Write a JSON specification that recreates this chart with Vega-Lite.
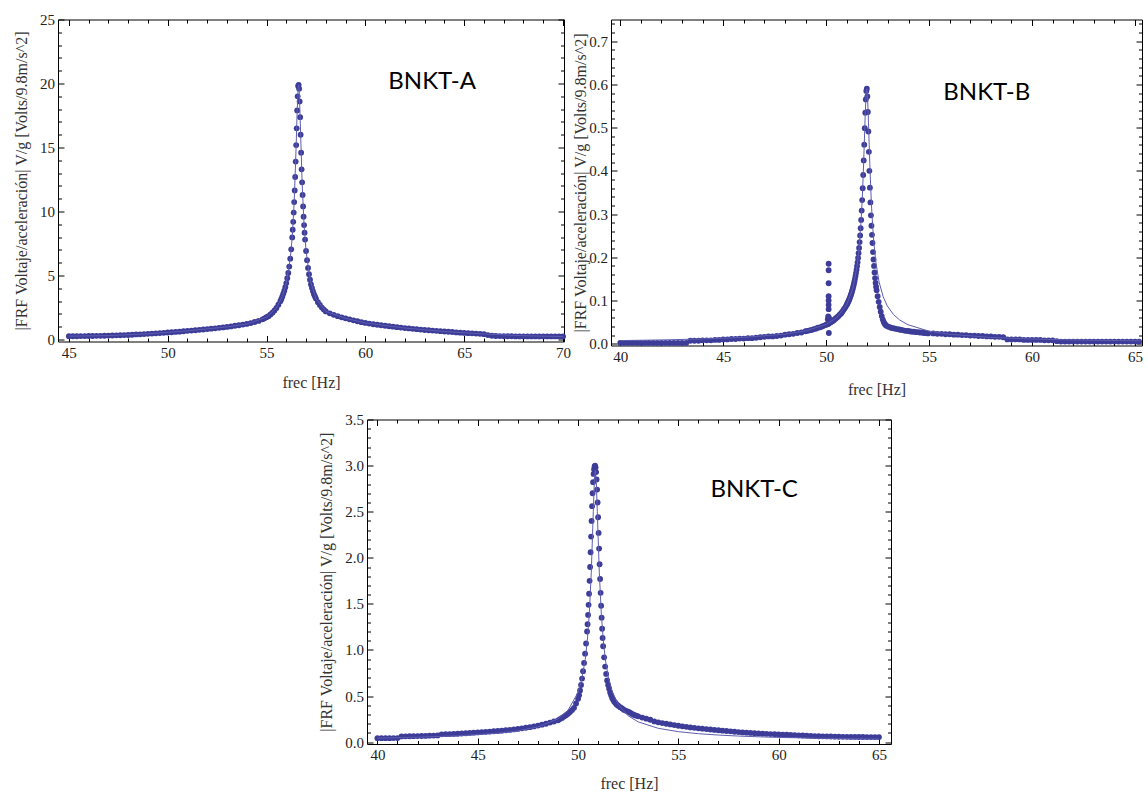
{
"$schema": "https://vega.github.io/schema/vega-lite/v6.json",
"padding": {"left": 13, "top": 11.5, "right": 0, "bottom": 0},
"background": "white",
"config": {
  "view": {"stroke": "black", "strokeWidth": 1},
  "axis": {"domain": false, "grid": false, "labelFont": "Liberation Serif", "labelFontSize": 15, "labelColor": "#222", "titleFont": "Liberation Serif", "titleFontSize": 16, "titleFontWeight": "normal", "titleColor": "#333", "labelFlush": false, "labelOverlap": false}
},
"datasets": {
"a": [{"f":45,"v":0.26},{"f":45.2,"v":0.26},{"f":45.4,"v":0.26},{"f":45.6,"v":0.27},{"f":45.8,"v":0.27},{"f":46,"v":0.28},{"f":46.2,"v":0.28},{"f":46.4,"v":0.29},{"f":46.6,"v":0.29},{"f":46.8,"v":0.3},{"f":47,"v":0.31},{"f":47.2,"v":0.32},{"f":47.4,"v":0.33},{"f":47.6,"v":0.34},{"f":47.8,"v":0.35},{"f":48,"v":0.36},{"f":48.2,"v":0.38},{"f":48.4,"v":0.4},{"f":48.6,"v":0.41},{"f":48.8,"v":0.43},{"f":49,"v":0.45},{"f":49.2,"v":0.47},{"f":49.4,"v":0.49},{"f":49.6,"v":0.51},{"f":49.8,"v":0.53},{"f":50,"v":0.55},{"f":50.2,"v":0.57},{"f":50.4,"v":0.6},{"f":50.6,"v":0.62},{"f":50.8,"v":0.65},{"f":51,"v":0.68},{"f":51.2,"v":0.7},{"f":51.4,"v":0.73},{"f":51.6,"v":0.76},{"f":51.8,"v":0.79},{"f":52,"v":0.82},{"f":52.2,"v":0.85},{"f":52.4,"v":0.88},{"f":52.6,"v":0.92},{"f":52.8,"v":0.95},{"f":53,"v":0.99},{"f":53.2,"v":1.03},{"f":53.4,"v":1.08},{"f":53.6,"v":1.12},{"f":53.8,"v":1.17},{"f":54,"v":1.22},{"f":54.2,"v":1.29},{"f":54.4,"v":1.37},{"f":54.6,"v":1.46},{"f":54.8,"v":1.58},{"f":54.9,"v":1.66},{"f":55,"v":1.75},{"f":55.1,"v":1.83},{"f":55.2,"v":1.96},{"f":55.3,"v":2.1},{"f":55.4,"v":2.27},{"f":55.5,"v":2.47},{"f":55.6,"v":2.72},{"f":55.7,"v":3.0},{"f":55.75,"v":3.17},{"f":55.8,"v":3.37},{"f":55.85,"v":3.59},{"f":55.9,"v":3.82},{"f":55.95,"v":4.09},{"f":56,"v":4.41},{"f":56.05,"v":4.79},{"f":56.1,"v":5.2},{"f":56.15,"v":5.7},{"f":56.2,"v":6.32},{"f":56.25,"v":7.05},{"f":56.3,"v":7.98},{"f":56.325,"v":8.58},{"f":56.35,"v":9.2},{"f":56.375,"v":9.92},{"f":56.4,"v":10.74},{"f":56.425,"v":11.65},{"f":56.45,"v":12.7},{"f":56.475,"v":13.9},{"f":56.5,"v":15.19},{"f":56.525,"v":16.5},{"f":56.55,"v":17.9},{"f":56.575,"v":19.0},{"f":56.6,"v":19.8},{"f":56.625,"v":19.9},{"f":56.65,"v":19.6},{"f":56.675,"v":18.6},{"f":56.7,"v":17.37},{"f":56.725,"v":16.0},{"f":56.75,"v":14.6},{"f":56.775,"v":13.3},{"f":56.8,"v":12.28},{"f":56.825,"v":11.3},{"f":56.85,"v":10.4},{"f":56.875,"v":9.6},{"f":56.9,"v":8.94},{"f":56.925,"v":8.35},{"f":56.95,"v":7.81},{"f":57,"v":6.92},{"f":57.05,"v":6.2},{"f":57.1,"v":5.6},{"f":57.15,"v":5.1},{"f":57.2,"v":4.68},{"f":57.25,"v":4.3},{"f":57.3,"v":4.02},{"f":57.35,"v":3.77},{"f":57.4,"v":3.55},{"f":57.45,"v":3.37},{"f":57.5,"v":3.2},{"f":57.6,"v":2.92},{"f":57.7,"v":2.7},{"f":57.8,"v":2.5},{"f":57.9,"v":2.34},{"f":58,"v":2.2},{"f":58.2,"v":2.05},{"f":58.4,"v":1.93},{"f":58.6,"v":1.83},{"f":58.8,"v":1.74},{"f":59,"v":1.66},{"f":59.2,"v":1.58},{"f":59.4,"v":1.5},{"f":59.6,"v":1.43},{"f":59.8,"v":1.36},{"f":60,"v":1.3},{"f":60.2,"v":1.25},{"f":60.4,"v":1.2},{"f":60.6,"v":1.16},{"f":60.8,"v":1.12},{"f":61,"v":1.08},{"f":61.2,"v":1.04},{"f":61.4,"v":1.01},{"f":61.6,"v":0.97},{"f":61.8,"v":0.94},{"f":62,"v":0.9},{"f":62.2,"v":0.87},{"f":62.4,"v":0.84},{"f":62.6,"v":0.81},{"f":62.8,"v":0.78},{"f":63,"v":0.75},{"f":63.2,"v":0.73},{"f":63.4,"v":0.7},{"f":63.6,"v":0.68},{"f":63.8,"v":0.66},{"f":64,"v":0.63},{"f":64.2,"v":0.61},{"f":64.4,"v":0.59},{"f":64.6,"v":0.56},{"f":64.8,"v":0.54},{"f":65,"v":0.52},{"f":65.2,"v":0.5},{"f":65.4,"v":0.49},{"f":65.6,"v":0.47},{"f":65.8,"v":0.45},{"f":66,"v":0.42},{"f":66.2,"v":0.35},{"f":66.4,"v":0.3},{"f":66.6,"v":0.28},{"f":66.8,"v":0.27},{"f":67,"v":0.26},{"f":67.2,"v":0.26},{"f":67.4,"v":0.26},{"f":67.6,"v":0.25},{"f":67.8,"v":0.25},{"f":68,"v":0.25},{"f":68.2,"v":0.25},{"f":68.4,"v":0.25},{"f":68.6,"v":0.25},{"f":68.8,"v":0.25},{"f":69,"v":0.25},{"f":69.2,"v":0.25},{"f":69.4,"v":0.25},{"f":69.6,"v":0.25},{"f":69.8,"v":0.25},{"f":70,"v":0.25}],
"af": [{"f":45,"v":0.27},{"f":47,"v":0.31},{"f":49,"v":0.45},{"f":51,"v":0.68},{"f":53,"v":0.99},{"f":54,"v":1.22},{"f":55,"v":1.75},{"f":55.5,"v":2.47},{"f":55.8,"v":3.37},{"f":56,"v":4.41},{"f":56.2,"v":6.32},{"f":56.3,"v":7.98},{"f":56.4,"v":10.74},{"f":56.5,"v":15.19},{"f":56.55,"v":17.9},{"f":56.6,"v":19.6},{"f":56.63,"v":19.9},{"f":56.65,"v":19.6},{"f":56.7,"v":17.37},{"f":56.8,"v":12.28},{"f":56.9,"v":8.94},{"f":57,"v":6.92},{"f":57.2,"v":4.68},{"f":57.5,"v":3.2},{"f":58,"v":2.2},{"f":59,"v":1.66},{"f":60,"v":1.3},{"f":62,"v":0.9},{"f":64,"v":0.63},{"f":66,"v":0.44},{"f":68,"v":0.3},{"f":70,"v":0.24}],
"b": [{"f":40,"v":0.002},{"f":40.2,"v":0.002},{"f":40.4,"v":0.002},{"f":40.6,"v":0.002},{"f":40.8,"v":0.002},{"f":41,"v":0.002},{"f":41.2,"v":0.002},{"f":41.4,"v":0.002},{"f":41.6,"v":0.002},{"f":41.8,"v":0.002},{"f":42,"v":0.002},{"f":42.2,"v":0.002},{"f":42.4,"v":0.002},{"f":42.6,"v":0.002},{"f":42.8,"v":0.002},{"f":43,"v":0.002},{"f":43.2,"v":0.002},{"f":43.4,"v":0.007},{"f":43.6,"v":0.007},{"f":43.8,"v":0.007},{"f":44,"v":0.008},{"f":44.2,"v":0.008},{"f":44.4,"v":0.008},{"f":44.6,"v":0.009},{"f":44.8,"v":0.009},{"f":45,"v":0.01},{"f":45.2,"v":0.01},{"f":45.4,"v":0.011},{"f":45.6,"v":0.011},{"f":45.8,"v":0.012},{"f":46,"v":0.012},{"f":46.2,"v":0.013},{"f":46.4,"v":0.013},{"f":46.6,"v":0.014},{"f":46.8,"v":0.015},{"f":47,"v":0.016},{"f":47.2,"v":0.017},{"f":47.4,"v":0.017},{"f":47.6,"v":0.018},{"f":47.8,"v":0.019},{"f":48,"v":0.021},{"f":48.2,"v":0.022},{"f":48.4,"v":0.023},{"f":48.6,"v":0.025},{"f":48.8,"v":0.026},{"f":49,"v":0.029},{"f":49.1,"v":0.03},{"f":49.2,"v":0.031},{"f":49.3,"v":0.032},{"f":49.4,"v":0.034},{"f":49.5,"v":0.035},{"f":49.6,"v":0.037},{"f":49.7,"v":0.038},{"f":49.8,"v":0.04},{"f":49.9,"v":0.042},{"f":50,"v":0.044},{"f":50.05,"v":0.045},{"f":50.1,"v":0.046},{"f":50.15,"v":0.048},{"f":50.2,"v":0.049},{"f":50.25,"v":0.051},{"f":50.3,"v":0.052},{"f":50.35,"v":0.054},{"f":50.4,"v":0.056},{"f":50.45,"v":0.058},{"f":50.5,"v":0.06},{"f":50.55,"v":0.062},{"f":50.6,"v":0.064},{"f":50.65,"v":0.067},{"f":50.7,"v":0.069},{"f":50.75,"v":0.072},{"f":50.8,"v":0.075},{"f":50.85,"v":0.079},{"f":50.9,"v":0.082},{"f":50.95,"v":0.086},{"f":51,"v":0.09},{"f":51.025,"v":0.0925},{"f":51.05,"v":0.0949},{"f":51.075,"v":0.0975},{"f":51.1,"v":0.1002},{"f":51.125,"v":0.1031},{"f":51.15,"v":0.1062},{"f":51.175,"v":0.1094},{"f":51.2,"v":0.1128},{"f":51.225,"v":0.1165},{"f":51.25,"v":0.1203},{"f":51.275,"v":0.1245},{"f":51.3,"v":0.1289},{"f":51.325,"v":0.1336},{"f":51.35,"v":0.1388},{"f":51.375,"v":0.1442},{"f":51.4,"v":0.1502},{"f":51.425,"v":0.1566},{"f":51.45,"v":0.1635},{"f":51.475,"v":0.1711},{"f":51.5,"v":0.1794},{"f":51.525,"v":0.1884},{"f":51.55,"v":0.1984},{"f":51.575,"v":0.2095},{"f":51.6,"v":0.2216},{"f":51.625,"v":0.2352},{"f":51.65,"v":0.2504},{"f":51.675,"v":0.2674},{"f":51.7,"v":0.2865},{"f":51.725,"v":0.3081},{"f":51.75,"v":0.3324},{"f":51.775,"v":0.3597},{"f":51.8,"v":0.3904},{"f":51.825,"v":0.4241},{"f":51.85,"v":0.4606},{"f":51.875,"v":0.4987},{"f":51.9,"v":0.5346},{"f":51.925,"v":0.5651},{"f":51.95,"v":0.5848},{"f":51.975,"v":0.59},{"f":52,"v":0.572},{"f":52.025,"v":0.536},{"f":52.05,"v":0.491},{"f":52.075,"v":0.444},{"f":52.1,"v":0.4},{"f":52.125,"v":0.361},{"f":52.15,"v":0.327},{"f":52.175,"v":0.297},{"f":52.2,"v":0.273},{"f":52.225,"v":0.252},{"f":52.25,"v":0.233},{"f":52.275,"v":0.212},{"f":52.3,"v":0.195},{"f":52.325,"v":0.18},{"f":52.35,"v":0.165},{"f":52.375,"v":0.152},{"f":52.4,"v":0.141},{"f":52.425,"v":0.132},{"f":52.45,"v":0.124},{"f":52.5,"v":0.11},{"f":52.55,"v":0.097},{"f":52.6,"v":0.085},{"f":52.65,"v":0.074},{"f":52.7,"v":0.064},{"f":52.75,"v":0.056},{"f":52.8,"v":0.05},{"f":52.85,"v":0.046},{"f":52.9,"v":0.043},{"f":52.95,"v":0.041},{"f":53.05,"v":0.039},{"f":53.15,"v":0.037},{"f":53.25,"v":0.036},{"f":53.35,"v":0.035},{"f":53.45,"v":0.034},{"f":53.55,"v":0.033},{"f":53.65,"v":0.032},{"f":53.75,"v":0.031},{"f":53.85,"v":0.03},{"f":53.95,"v":0.03},{"f":54.05,"v":0.029},{"f":54.15,"v":0.028},{"f":54.25,"v":0.028},{"f":54.35,"v":0.027},{"f":54.45,"v":0.027},{"f":54.55,"v":0.026},{"f":54.65,"v":0.026},{"f":54.75,"v":0.025},{"f":54.85,"v":0.025},{"f":54.95,"v":0.024},{"f":55.2,"v":0.024},{"f":55.4,"v":0.023},{"f":55.6,"v":0.023},{"f":55.8,"v":0.022},{"f":56,"v":0.022},{"f":56.2,"v":0.021},{"f":56.4,"v":0.021},{"f":56.6,"v":0.02},{"f":56.8,"v":0.02},{"f":57,"v":0.019},{"f":57.2,"v":0.019},{"f":57.4,"v":0.018},{"f":57.6,"v":0.018},{"f":57.8,"v":0.017},{"f":58,"v":0.017},{"f":58.2,"v":0.016},{"f":58.4,"v":0.016},{"f":58.6,"v":0.015},{"f":58.8,"v":0.01},{"f":59,"v":0.01},{"f":59.2,"v":0.01},{"f":59.4,"v":0.01},{"f":59.6,"v":0.009},{"f":59.8,"v":0.009},{"f":60,"v":0.009},{"f":60.2,"v":0.009},{"f":60.4,"v":0.009},{"f":60.6,"v":0.008},{"f":60.8,"v":0.008},{"f":61,"v":0.008},{"f":61.2,"v":0.006},{"f":61.4,"v":0.005},{"f":61.6,"v":0.005},{"f":61.8,"v":0.005},{"f":62,"v":0.005},{"f":62.2,"v":0.005},{"f":62.4,"v":0.005},{"f":62.6,"v":0.005},{"f":62.8,"v":0.005},{"f":63,"v":0.005},{"f":63.2,"v":0.005},{"f":63.4,"v":0.005},{"f":63.6,"v":0.005},{"f":63.8,"v":0.005},{"f":64,"v":0.005},{"f":64.2,"v":0.005},{"f":64.4,"v":0.005},{"f":64.6,"v":0.005},{"f":64.8,"v":0.005},{"f":65,"v":0.005},{"f":65.2,"v":0.005},{"f":50.12,"v":0.185},{"f":50.12,"v":0.17},{"f":50.12,"v":0.14},{"f":50.12,"v":0.11},{"f":50.12,"v":0.1},{"f":50.12,"v":0.09},{"f":50.12,"v":0.08},{"f":50.1,"v":0.063},{"f":50.14,"v":0.06},{"f":50.08,"v":0.057},{"f":50.16,"v":0.052},{"f":50.13,"v":0.025}],
"bf": [{"f":40,"v":0.0074},{"f":42,"v":0.0089},{"f":44,"v":0.0111},{"f":46,"v":0.0148},{"f":48,"v":0.0223},{"f":49,"v":0.0298},{"f":50,"v":0.0448},{"f":50.5,"v":0.0598},{"f":51,"v":0.0902},{"f":51.3,"v":0.1289},{"f":51.5,"v":0.1794},{"f":51.6,"v":0.2216},{"f":51.7,"v":0.2865},{"f":51.75,"v":0.3324},{"f":51.8,"v":0.3904},{"f":51.85,"v":0.4606},{"f":51.9,"v":0.5346},{"f":51.95,"v":0.5848},{"f":51.97,"v":0.59},{"f":51.99,"v":0.5848},{"f":52.015,"v":0.5651},{"f":52.04,"v":0.5346},{"f":52.065,"v":0.4987},{"f":52.09,"v":0.4606},{"f":52.12,"v":0.4172},{"f":52.17,"v":0.354},{"f":52.22,"v":0.3035},{"f":52.27,"v":0.2639},{"f":52.32,"v":0.2324},{"f":52.42,"v":0.1866},{"f":52.57,"v":0.1431},{"f":52.77,"v":0.1085},{"f":52.97,"v":0.0875},{"f":53.27,"v":0.0676},{"f":53.57,"v":0.055},{"f":53.97,"v":0.0441},{"f":54.97,"v":0.0295},{"f":55.97,"v":0.0221},{"f":57.97,"v":0.0147},{"f":59.97,"v":0.0111},{"f":62,"v":0.0088},{"f":65.3,"v":0.0067}],
"c": [{"f":40,"v":0.043},{"f":40.2,"v":0.043},{"f":40.4,"v":0.043},{"f":40.6,"v":0.043},{"f":40.8,"v":0.044},{"f":41,"v":0.044},{"f":41.2,"v":0.062},{"f":41.4,"v":0.063},{"f":41.6,"v":0.064},{"f":41.8,"v":0.065},{"f":42,"v":0.066},{"f":42.2,"v":0.067},{"f":42.4,"v":0.068},{"f":42.6,"v":0.07},{"f":42.8,"v":0.071},{"f":43,"v":0.073},{"f":43.2,"v":0.085},{"f":43.4,"v":0.087},{"f":43.6,"v":0.088},{"f":43.8,"v":0.089},{"f":44,"v":0.091},{"f":44.2,"v":0.094},{"f":44.4,"v":0.097},{"f":44.6,"v":0.1},{"f":44.8,"v":0.103},{"f":45,"v":0.106},{"f":45.2,"v":0.109},{"f":45.4,"v":0.112},{"f":45.6,"v":0.115},{"f":45.8,"v":0.118},{"f":46,"v":0.121},{"f":46.2,"v":0.125},{"f":46.4,"v":0.129},{"f":46.6,"v":0.133},{"f":46.8,"v":0.138},{"f":47,"v":0.144},{"f":47.2,"v":0.15},{"f":47.4,"v":0.156},{"f":47.6,"v":0.163},{"f":47.8,"v":0.171},{"f":48,"v":0.18},{"f":48.2,"v":0.19},{"f":48.4,"v":0.2},{"f":48.6,"v":0.212},{"f":48.8,"v":0.224},{"f":49,"v":0.237},{"f":49.1,"v":0.25},{"f":49.2,"v":0.263},{"f":49.3,"v":0.277},{"f":49.4,"v":0.292},{"f":49.5,"v":0.308},{"f":49.6,"v":0.327},{"f":49.7,"v":0.348},{"f":49.8,"v":0.372},{"f":49.9,"v":0.42},{"f":50,"v":0.47},{"f":50.05,"v":0.51},{"f":50.1,"v":0.56},{"f":50.15,"v":0.62},{"f":50.2,"v":0.69},{"f":50.25,"v":0.77},{"f":50.3,"v":0.86},{"f":50.35,"v":0.96},{"f":50.4,"v":1.07},{"f":50.45,"v":1.2},{"f":50.475,"v":1.28},{"f":50.5,"v":1.38},{"f":50.525,"v":1.49},{"f":50.55,"v":1.61},{"f":50.575,"v":1.75},{"f":50.6,"v":1.9},{"f":50.625,"v":2.06},{"f":50.65,"v":2.23},{"f":50.675,"v":2.4},{"f":50.7,"v":2.56},{"f":50.725,"v":2.7},{"f":50.75,"v":2.82},{"f":50.775,"v":2.91},{"f":50.8,"v":2.96},{"f":50.825,"v":2.99},{"f":50.85,"v":3.0},{"f":50.875,"v":2.98},{"f":50.9,"v":2.93},{"f":50.925,"v":2.85},{"f":50.95,"v":2.74},{"f":50.975,"v":2.6},{"f":51,"v":2.44},{"f":51.025,"v":2.27},{"f":51.05,"v":2.1},{"f":51.075,"v":1.93},{"f":51.1,"v":1.77},{"f":51.125,"v":1.62},{"f":51.15,"v":1.48},{"f":51.175,"v":1.35},{"f":51.2,"v":1.23},{"f":51.225,"v":1.13},{"f":51.25,"v":1.04},{"f":51.3,"v":0.92},{"f":51.35,"v":0.82},{"f":51.4,"v":0.74},{"f":51.45,"v":0.67},{"f":51.5,"v":0.62},{"f":51.55,"v":0.58},{"f":51.6,"v":0.54},{"f":51.65,"v":0.51},{"f":51.7,"v":0.48},{"f":51.75,"v":0.46},{"f":51.8,"v":0.44},{"f":51.85,"v":0.43},{"f":51.9,"v":0.415},{"f":51.95,"v":0.405},{"f":52,"v":0.395},{"f":52.1,"v":0.38},{"f":52.2,"v":0.365},{"f":52.3,"v":0.35},{"f":52.4,"v":0.34},{"f":52.5,"v":0.33},{"f":52.6,"v":0.32},{"f":52.7,"v":0.305},{"f":52.8,"v":0.295},{"f":52.9,"v":0.287},{"f":53,"v":0.28},{"f":53.2,"v":0.267},{"f":53.4,"v":0.255},{"f":53.6,"v":0.243},{"f":53.8,"v":0.225},{"f":54,"v":0.215},{"f":54.2,"v":0.207},{"f":54.4,"v":0.2},{"f":54.6,"v":0.192},{"f":54.8,"v":0.185},{"f":55,"v":0.178},{"f":55.2,"v":0.172},{"f":55.4,"v":0.166},{"f":55.6,"v":0.16},{"f":55.8,"v":0.155},{"f":56,"v":0.15},{"f":56.2,"v":0.146},{"f":56.4,"v":0.142},{"f":56.6,"v":0.137},{"f":56.8,"v":0.133},{"f":57,"v":0.129},{"f":57.2,"v":0.125},{"f":57.4,"v":0.121},{"f":57.6,"v":0.117},{"f":57.8,"v":0.113},{"f":58,"v":0.109},{"f":58.2,"v":0.106},{"f":58.4,"v":0.103},{"f":58.6,"v":0.1},{"f":58.8,"v":0.097},{"f":59,"v":0.095},{"f":59.2,"v":0.092},{"f":59.4,"v":0.09},{"f":59.6,"v":0.088},{"f":59.8,"v":0.086},{"f":60,"v":0.084},{"f":60.2,"v":0.082},{"f":60.4,"v":0.08},{"f":60.6,"v":0.078},{"f":60.8,"v":0.076},{"f":61,"v":0.074},{"f":61.2,"v":0.072},{"f":61.4,"v":0.07},{"f":61.6,"v":0.068},{"f":61.8,"v":0.066},{"f":62,"v":0.064},{"f":62.2,"v":0.063},{"f":62.4,"v":0.062},{"f":62.6,"v":0.061},{"f":62.8,"v":0.06},{"f":63,"v":0.059},{"f":63.2,"v":0.058},{"f":63.4,"v":0.058},{"f":63.6,"v":0.057},{"f":63.8,"v":0.057},{"f":64,"v":0.056},{"f":64.2,"v":0.056},{"f":64.4,"v":0.055},{"f":64.6,"v":0.055},{"f":64.8,"v":0.055},{"f":65,"v":0.055}],
"cf": [{"f":40,"v":0.0435},{"f":42,"v":0.0533},{"f":44,"v":0.0688},{"f":46,"v":0.097},{"f":47,"v":0.122},{"f":48,"v":0.165},{"f":49,"v":0.253},{"f":49.5,"v":0.345},{"f":50,"v":0.54},{"f":50.2,"v":0.7},{"f":50.36,"v":0.899},{"f":50.46,"v":1.1},{"f":50.56,"v":1.388},{"f":50.66,"v":1.843},{"f":50.76,"v":2.5},{"f":50.81,"v":2.816},{"f":50.86,"v":2.95},{"f":50.91,"v":2.816},{"f":50.96,"v":2.5},{"f":51.06,"v":1.843},{"f":51.16,"v":1.388},{"f":51.26,"v":1.1},{"f":51.36,"v":0.899},{"f":51.5,"v":0.715},{"f":51.7,"v":0.552},{"f":52,"v":0.41},{"f":52.5,"v":0.286},{"f":53,"v":0.22},{"f":54,"v":0.15},{"f":55,"v":0.114},{"f":56,"v":0.0918},{"f":57,"v":0.0769},{"f":58,"v":0.0661},{"f":59,"v":0.058},{"f":60,"v":0.0516},{"f":62,"v":0.0424},{"f":65,"v":0.0334}]
},
"spacing": 13,
"vconcat": [
{"hconcat": [
{
"width": 506, "height": 322,
"layer": [
{"data": {"name": "a"}, "mark": {"type": "circle", "size": 34, "opacity": 1, "color": "#3d3d99"},
 "encoding": {
  "x": {"field": "f", "type": "quantitative", "scale": {"domain": [44.45, 70.05], "nice": false, "zero": false}, "axis": {"orient": "bottom", "values": [45,46,47,48,49,50,51,52,53,54,55,56,57,58,59,60,61,62,63,64,65,66,67,68,69,70], "labelExpr": "datum.value % 5 === 0 ? datum.label : ''", "tickSize": {"condition": {"test": "datum.value % 5 === 0", "value": -6}, "value": -3.5}, "tickColor": "black", "tickWidth": 1, "labelPadding": 9.5, "title": "frec [Hz]", "titlePadding": 12}},
  "y": {"field": "v", "type": "quantitative", "scale": {"domain": [-0.15, 25], "nice": false, "zero": false}, "axis": {"orient": "left", "values": [0,1,2,3,4,5,6,7,8,9,10,11,12,13,14,15,16,17,18,19,20,21,22,23,24,25], "format": "d", "labelExpr": "datum.value % 5 === 0 ? datum.label : ''", "tickSize": {"condition": {"test": "datum.value % 5 === 0", "value": -6}, "value": -3.5}, "tickColor": "black", "tickWidth": 1, "labelPadding": 9.5, "title": "|FRF Voltaje/aceleración| V/g [Volts/9.8m/s^2]", "titlePadding": 10}}}},
{"data": {"name": "af"}, "mark": {"type": "line", "color": "#5d5db0", "strokeWidth": 1},
 "encoding": {
  "x": {"field": "f", "type": "quantitative", "scale": {"domain": [44.45, 70.05], "nice": false, "zero": false}, "axis": {"orient": "top", "values": [45,46,47,48,49,50,51,52,53,54,55,56,57,58,59,60,61,62,63,64,65,66,67,68,69,70], "tickSize": {"condition": {"test": "datum.value % 5 === 0", "value": -6}, "value": -3.5}, "tickColor": "black", "tickWidth": 1, "labels": false, "title": null}},
  "y": {"field": "v", "type": "quantitative", "scale": {"domain": [-0.15, 25], "nice": false, "zero": false}, "axis": {"orient": "right", "values": [0,1,2,3,4,5,6,7,8,9,10,11,12,13,14,15,16,17,18,19,20,21,22,23,24,25], "tickSize": {"condition": {"test": "datum.value % 5 === 0", "value": -6}, "value": -3.5}, "tickColor": "black", "tickWidth": 1, "labels": false, "title": null}}}},
{"data": {"values": [{}]}, "mark": {"type": "text", "font": "Lato", "fontSize": 24, "fontWeight": "normal", "align": "center", "baseline": "alphabetic", "color": "black"},
 "encoding": {"x": {"datum": 63.38, "type": "quantitative", "axis": null}, "y": {"datum": 19.55, "type": "quantitative", "axis": null}, "text": {"value": "BNKT-A"}}}
],
"resolve": {"axis": {"x": "independent", "y": "independent"}}
},
{
"width": 531, "height": 326,
"layer": [
{"data": {"name": "b"}, "mark": {"type": "circle", "size": 34, "opacity": 1, "color": "#3d3d99"},
 "encoding": {
  "x": {"field": "f", "type": "quantitative", "scale": {"domain": [39.55, 65.34], "nice": false, "zero": false}, "axis": {"orient": "bottom", "values": [40,41,42,43,44,45,46,47,48,49,50,51,52,53,54,55,56,57,58,59,60,61,62,63,64,65], "labelExpr": "datum.value % 5 === 0 ? datum.label : ''", "tickSize": {"condition": {"test": "datum.value % 5 === 0", "value": -6}, "value": -3.5}, "tickColor": "black", "tickWidth": 1, "labelPadding": 9.5, "title": "frec [Hz]", "titlePadding": 15}},
  "y": {"field": "v", "type": "quantitative", "scale": {"domain": [-0.004, 0.75], "nice": false, "zero": false}, "axis": {"orient": "left", "values": [0,0.02,0.04,0.06,0.08,0.1,0.12,0.14,0.16,0.18,0.2,0.22,0.24,0.26,0.28,0.3,0.32,0.34,0.36,0.38,0.4,0.42,0.44,0.46,0.48,0.5,0.52,0.54,0.56,0.58,0.6,0.62,0.64,0.66,0.68,0.7,0.72,0.74], "format": ".1f", "labelExpr": "round(datum.value * 100) % 10 === 0 ? datum.label : ''", "tickSize": {"condition": {"test": "round(datum.value * 100) % 10 === 0", "value": -6}, "value": -3.5}, "tickColor": "black", "tickWidth": 1, "labelPadding": 9.5, "title": "|FRF Voltaje/aceleración| V/g [Volts/9.8m/s^2]", "titlePadding": 0}}}},
{"data": {"name": "bf"}, "mark": {"type": "line", "color": "#5d5db0", "strokeWidth": 1},
 "encoding": {
  "x": {"field": "f", "type": "quantitative", "scale": {"domain": [39.55, 65.34], "nice": false, "zero": false}, "axis": {"orient": "top", "values": [40,41,42,43,44,45,46,47,48,49,50,51,52,53,54,55,56,57,58,59,60,61,62,63,64,65], "tickSize": {"condition": {"test": "datum.value % 5 === 0", "value": -6}, "value": -3.5}, "tickColor": "black", "tickWidth": 1, "labels": false, "title": null}},
  "y": {"field": "v", "type": "quantitative", "scale": {"domain": [-0.004, 0.75], "nice": false, "zero": false}, "axis": {"orient": "right", "values": [0,0.02,0.04,0.06,0.08,0.1,0.12,0.14,0.16,0.18,0.2,0.22,0.24,0.26,0.28,0.3,0.32,0.34,0.36,0.38,0.4,0.42,0.44,0.46,0.48,0.5,0.52,0.54,0.56,0.58,0.6,0.62,0.64,0.66,0.68,0.7,0.72,0.74], "tickSize": {"condition": {"test": "round(datum.value * 100) % 10 === 0", "value": -6}, "value": -3.5}, "tickColor": "black", "tickWidth": 1, "labels": false, "title": null}}}},
{"data": {"values": [{}]}, "mark": {"type": "text", "font": "Lato", "fontSize": 24, "fontWeight": "normal", "align": "center", "baseline": "alphabetic", "color": "black"},
 "encoding": {"x": {"datum": 57.8, "type": "quantitative", "axis": null}, "y": {"datum": 0.563, "type": "quantitative", "axis": null}, "text": {"value": "BNKT-B"}}}
],
"resolve": {"axis": {"x": "independent", "y": "independent"}}
}
], "spacing": 0},
{"hconcat": [
{"width": 260, "height": 10, "view": {"stroke": null}, "data": {"values": []}, "mark": "point"},
{
"width": 524, "height": 324.5,
"layer": [
{"data": {"name": "c"}, "mark": {"type": "circle", "size": 34, "opacity": 1, "color": "#3d3d99"},
 "encoding": {
  "x": {"field": "f", "type": "quantitative", "scale": {"domain": [39.48, 65.6], "nice": false, "zero": false}, "axis": {"orient": "bottom", "values": [40,41,42,43,44,45,46,47,48,49,50,51,52,53,54,55,56,57,58,59,60,61,62,63,64,65], "labelExpr": "datum.value % 5 === 0 ? datum.label : ''", "tickSize": {"condition": {"test": "datum.value % 5 === 0", "value": -6}, "value": -3.5}, "tickColor": "black", "tickWidth": 1, "labelPadding": 9.5, "title": "frec [Hz]", "titlePadding": 10}},
  "y": {"field": "v", "type": "quantitative", "scale": {"domain": [-0.02, 3.5], "nice": false, "zero": false}, "axis": {"orient": "left", "values": [0,0.1,0.2,0.3,0.4,0.5,0.6,0.7,0.8,0.9,1,1.1,1.2,1.3,1.4,1.5,1.6,1.7,1.8,1.9,2,2.1,2.2,2.3,2.4,2.5,2.6,2.7,2.8,2.9,3,3.1,3.2,3.3,3.4,3.5], "format": ".1f", "labelExpr": "round(datum.value * 10) % 5 === 0 ? datum.label : ''", "tickSize": {"condition": {"test": "round(datum.value * 10) % 5 === 0", "value": -6}, "value": -3.5}, "tickColor": "black", "tickWidth": 1, "labelPadding": 9.5, "title": "|FRF Voltaje/aceleración| V/g [Volts/9.8m/s^2]", "titlePadding": 10}}}},
{"data": {"name": "cf"}, "mark": {"type": "line", "color": "#5d5db0", "strokeWidth": 1},
 "encoding": {
  "x": {"field": "f", "type": "quantitative", "scale": {"domain": [39.48, 65.6], "nice": false, "zero": false}, "axis": {"orient": "top", "values": [40,41,42,43,44,45,46,47,48,49,50,51,52,53,54,55,56,57,58,59,60,61,62,63,64,65], "tickSize": {"condition": {"test": "datum.value % 5 === 0", "value": -6}, "value": -3.5}, "tickColor": "black", "tickWidth": 1, "labels": false, "title": null}},
  "y": {"field": "v", "type": "quantitative", "scale": {"domain": [-0.02, 3.5], "nice": false, "zero": false}, "axis": {"orient": "right", "values": [0,0.1,0.2,0.3,0.4,0.5,0.6,0.7,0.8,0.9,1,1.1,1.2,1.3,1.4,1.5,1.6,1.7,1.8,1.9,2,2.1,2.2,2.3,2.4,2.5,2.6,2.7,2.8,2.9,3,3.1,3.2,3.3,3.4,3.5], "tickSize": {"condition": {"test": "round(datum.value * 10) % 5 === 0", "value": -6}, "value": -3.5}, "tickColor": "black", "tickWidth": 1, "labels": false, "title": null}}}},
{"data": {"values": [{}]}, "mark": {"type": "text", "font": "Lato", "fontSize": 24, "fontWeight": "normal", "align": "center", "baseline": "alphabetic", "color": "black"},
 "encoding": {"x": {"datum": 58.78, "type": "quantitative", "axis": null}, "y": {"datum": 2.657, "type": "quantitative", "axis": null}, "text": {"value": "BNKT-C"}}}
],
"resolve": {"axis": {"x": "independent", "y": "independent"}}
}
], "spacing": 0}
]
}
